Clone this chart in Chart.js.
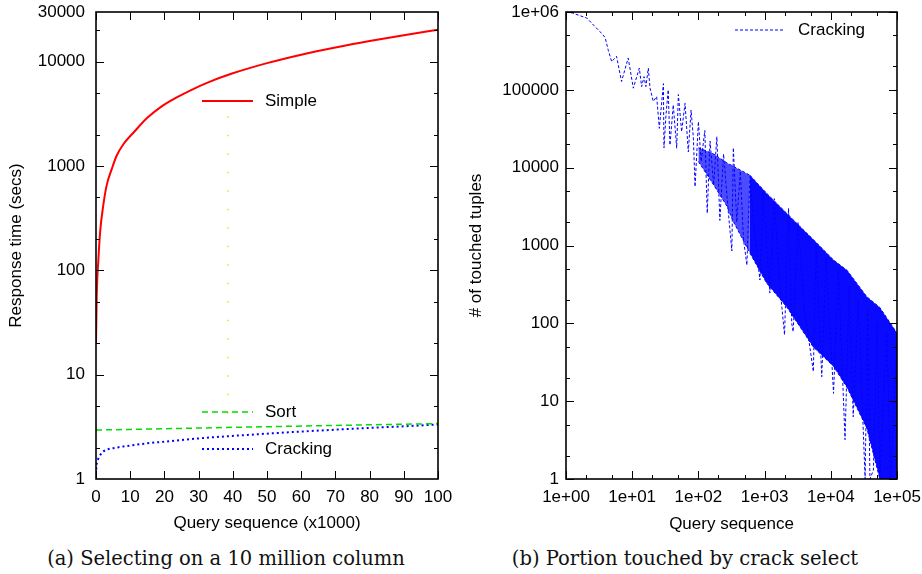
<!DOCTYPE html>
<html>
<head>
<meta charset="utf-8">
<script src="https://cdn.jsdelivr.net/npm/chart.js@4"></script>
<style>
  body { margin: 0; width: 922px; height: 574px; overflow: hidden; background: #fff; position: relative; }
  canvas { position: absolute; top: 0; }
  #left { left: 0; }
  #right { left: 460px; }
  .cap { position: absolute; top: 547px; font-family: "DejaVu Serif", serif; font-size: 19.5px; color: #111; white-space: nowrap; transform: translateX(-50%); }
</style>
</head>
<body>
<canvas id="left" width="460" height="545"></canvas>
<canvas id="right" width="480" height="545"></canvas>
<div class="cap" style="left:226px">(a) Selecting on a 10 million column</div>
<div class="cap" style="left:685px">(b) Portion touched by crack select</div>
<script>
// (a) response time, query sequence in thousands
const simpleQ    = [0, 0.2, 0.7, 1.2, 2.1, 3.1, 4.6, 6, 8, 11, 15, 19, 23.6, 27.5, 32.8, 40, 50, 60, 70, 80, 90, 100]
const simpleSecs = [20, 55, 127, 233, 415, 650, 935, 1250, 1620, 2100, 2900, 3700, 4550, 5300, 6350, 7750, 9700, 11700, 13700, 15800, 18000, 20300]
const queryK     = [0, 0.1, 0.3, 0.5, 1, 2, 3, 4, 6, 8, 10, 15, 20, 30, 40, 50, 60, 70, 80, 90, 100]
const sortSecs   = [2.95, 2.95, 2.95, 2.95, 2.95, 2.96, 2.96, 2.96, 2.97, 2.98, 2.99, 3.01, 3.03, 3.08, 3.13, 3.17, 3.22, 3.26, 3.31, 3.35, 3.40]
const crackSecs  = [1.1, 1.3, 1.45, 1.52, 1.65, 1.82, 1.9, 1.95, 2.0, 2.05, 2.09, 2.2, 2.28, 2.45, 2.59, 2.72, 2.85, 2.97, 3.09, 3.2, 3.33]
const oddQ       = [38.6, 38.6]
const oddSecs    = [3000, 3]
const leftYTicks = [1, 10, 100, 1000, 10000, 30000]

// (b) touched tuples per query
const crackQ = [1, 1.26, 1.6, 2.05, 2.6, 3.26, 3.9, 4.36, 4.9, 5.8, 6.9, 8.7, 10.4, 12.8, 13.9, 15.1, 16.1, 17.5, 18.6, 20.8,
  23.4, 25.7, 29.6, 30.2, 32.4, 35, 37.2, 41.7, 47, 49.8, 55.8, 62.8, 70.4, 77.5, 84, 89, 100, 110, 125, 136, 150, 170, 190,
  211, 240, 280, 320, 337, 380, 430, 480, 540, 600, 700, 850, 950, 1200, 1400, 1700, 2000, 2300, 2570, 2700, 3200, 4000,
  5450, 6000, 7300, 8500, 11000, 13000, 16400, 19000, 21800, 26000, 33000, 36000, 39000, 44000, 50000, 55000, 70000, 80000, 100000]
const crackTouched = [1e6, 9.7e5, 9e5, 8.4e5, 6.8e5, 5.6e5, 4.7e5, 3.2e5, 2.3e5, 2.7e5, 1.28e5, 2.56e5, 1.05e5, 1.9e5, 1.1e5,
  1.48e5, 1.1e5, 1.9e5, 1.05e5, 7.1e4, 8.2e4, 3.2e4, 1.2e5, 1.8e4, 4.8e4, 1e5, 1.95e4, 6.4e4, 1.78e4, 8.7e4, 2.9e4, 6.7e4,
  1.6e4, 5.5e4, 2.4e4, 5.7e3, 3.9e4, 1.2e4, 3.0e4, 2.6e3, 2.2e4, 6e3, 2.5e4, 2.1e3, 1.5e4, 3e3, 850, 1.8e4, 2e3, 9e3, 1.2e3,
  560, 7.7e3, 1.5e3, 360, 5e3, 245, 4e3, 300, 71, 3e3, 100, 78, 2e3, 150, 24, 1e3, 20.6, 700, 12.6, 500, 3.2, 300, 6.3, 200,
  1, 150, 1, 1.3, 100, 1, 80, 1, 60]
// dense cloud of the crack series: early sparse part and later solid part
const sparseQ     = [100, 170, 270, 330, 600]
const sparseUpper = [1.8e4, 1.5e4, 1.15e4, 1.05e4, 8e3]
const sparseLower = [1.2e4, 6e3, 3.2e3, 2.1e3, 800]
const solidQ      = [600, 1070, 2150, 3430, 5400, 11000, 17600, 35000, 55000, 100000]
const solidUpper  = [8e3, 4.7e3, 2.6e3, 1.75e3, 1.2e3, 650, 480, 220, 160, 75]
const solidLower  = [800, 330, 163, 90, 50, 28, 15, 4.5, 1, 1]
const rightXTicks = [1, 10, 100, 1000, 10000, 100000]
const rightYTicks = [1, 10, 100, 1000, 10000, 100000, 1000000]

Chart.defaults.font.family = 'Liberation Sans'
Chart.defaults.font.size = 17
Chart.defaults.color = '#000'

const pts = (xs, ys) => xs.map((x, i) => ({x: x, y: ys[i]}))

// box round the plot with inward ticks on all four sides
const frame = {
  id: 'frame',
  afterDatasetsDraw(chart, args, o) {
    const ctx = chart.ctx, a = chart.chartArea, sx = chart.scales.x, sy = chart.scales.y
    ctx.save()
    ctx.strokeStyle = '#000'
    ctx.lineWidth = 1
    ctx.beginPath()
    const tx = (v, len) => {
      const p = Math.round(sx.getPixelForValue(v)) + 0.5
      ctx.moveTo(p, a.bottom); ctx.lineTo(p, a.bottom - len)
      ctx.moveTo(p, a.top); ctx.lineTo(p, a.top + len)
    }
    const ty = (v, len) => {
      const p = Math.round(sy.getPixelForValue(v)) + 0.5
      ctx.moveTo(a.left, p); ctx.lineTo(a.left + len, p)
      ctx.moveTo(a.right, p); ctx.lineTo(a.right - len, p)
    }
    o.xMajor.forEach(v => tx(v, 8))
    o.xMinor.forEach(v => tx(v, 4))
    o.yMajor.forEach(v => ty(v, 8))
    o.yMinor.forEach(v => ty(v, 4))
    ctx.stroke()
    ctx.lineWidth = 1.6
    ctx.strokeRect(a.left, a.top, a.right - a.left, a.bottom - a.top)
    ctx.restore()
  }
}

// gnuplot style key: sample line and label at given spots
const key = {
  id: 'key',
  afterDatasetsDraw(chart, args, o) {
    const ctx = chart.ctx
    ctx.save()
    o.items.forEach(it => {
      const ds = chart.data.datasets[it.ds]
      ctx.strokeStyle = ds.borderColor
      ctx.lineWidth = ds.borderWidth
      ctx.setLineDash(ds.borderDash || [])
      ctx.beginPath()
      ctx.moveTo(o.x0, it.y); ctx.lineTo(o.x1, it.y)
      ctx.stroke()
      ctx.setLineDash([])
      ctx.fillStyle = '#000'
      ctx.font = '17px "Liberation Sans"'
      ctx.textBaseline = 'middle'
      ctx.fillText(ds.label, o.tx, it.y)
    })
    ctx.restore()
  }
}

const decades = (lo, hi, mult) => {
  const out = []
  for (let d = lo; d <= hi; d *= 10) mult.forEach(m => out.push(d * m))
  return out
}

// keep tick-label overhang from pushing the plot box around
const fixX = s => { s.height = 66; s.paddingLeft = 0; s.paddingRight = 0 }
const fixY = w => s => { s.width = w; s.paddingTop = 0; s.paddingBottom = 0 }

new Chart(document.getElementById('left'), {
  type: 'line',
  data: {
    datasets: [
      {label: 'Simple', data: pts(simpleQ, simpleSecs), borderColor: '#ff0000', borderWidth: 2, cubicInterpolationMode: 'monotone'},
      {label: 'Sort', data: pts(queryK, sortSecs), borderColor: '#00dd00', borderWidth: 1.5, borderDash: [6, 4]},
      {label: 'Cracking', data: pts(queryK, crackSecs), borderColor: '#0000ff', borderWidth: 2, borderDash: [2, 3], cubicInterpolationMode: 'monotone'},
      {label: '', data: pts(oddQ, oddSecs), borderColor: '#e6e600', borderWidth: 1.5, borderDash: [1.5, 17]}
    ]
  },
  options: {
    responsive: false,
    animation: false,
    devicePixelRatio: 1,
    layout: {padding: {top: 12, right: 22, left: 0, bottom: 0}},
    elements: {point: {radius: 0}},
    plugins: {
      legend: {display: false},
      tooltip: {enabled: false},
      frame: {xMajor: [0, 10, 20, 30, 40, 50, 60, 70, 80, 90, 100], xMinor: [],
              yMajor: [10, 100, 1000, 10000], yMinor: decades(1, 10000, [2, 5]).filter(v => v < 30000)},
      key: {x0: 202, x1: 253, tx: 265, items: [{ds: 0, y: 101}, {ds: 1, y: 412}, {ds: 2, y: 449}]}
    },
    scales: {
      x: {
        type: 'linear', min: 0, max: 100,
        ticks: {stepSize: 10, padding: 8, autoSkip: false, maxRotation: 0, minRotation: 0},
        grid: {display: false, drawTicks: false}, border: {display: false},
        title: {display: true, text: 'Query sequence (x1000)', padding: {top: 4, bottom: 11}},
        afterFit: fixX
      },
      y: {
        type: 'logarithmic', min: 1, max: 30000,
        afterBuildTicks: s => { s.ticks = leftYTicks.map(v => ({value: v})) },
        ticks: {padding: 11, callback: v => String(v)},
        grid: {display: false, drawTicks: false}, border: {display: false},
        title: {display: true, text: 'Response time (secs)', padding: {top: 6, bottom: 0}},
        afterFit: fixY(96)
      }
    }
  },
  plugins: [frame, key]
})

const cloudLine = {borderColor: '#0000ff', borderWidth: 1, borderDash: [3, 2]}

new Chart(document.getElementById('right'), {
  type: 'line',
  data: {
    datasets: [
      {label: 'Cracking', data: pts(crackQ, crackTouched), ...cloudLine},
      {label: 'sparse top', data: pts(sparseQ, sparseUpper), ...cloudLine, fill: false},
      {label: 'sparse bottom', data: pts(sparseQ, sparseLower), ...cloudLine, fill: '-1', backgroundColor: 'rgba(0,0,255,0.7)'},
      {label: 'solid top', data: pts(solidQ, solidUpper), ...cloudLine, fill: false},
      {label: 'solid bottom', data: pts(solidQ, solidLower), ...cloudLine, fill: '-1', backgroundColor: 'rgba(0,0,255,0.96)'}
    ]
  },
  options: {
    responsive: false,
    animation: false,
    devicePixelRatio: 1,
    layout: {padding: {top: 12, right: 43, left: 0, bottom: 0}},
    elements: {point: {radius: 0}, line: {tension: 0}},
    plugins: {
      legend: {display: false},
      tooltip: {enabled: false},
      filler: {propagate: false},
      frame: {xMajor: rightXTicks, xMinor: decades(1, 10000, [2, 5]),
              yMajor: rightYTicks, yMinor: decades(1, 100000, [2, 5])},
      key: {x0: 275, x1: 323, tx: 338, items: [{ds: 0, y: 30}]}
    },
    scales: {
      x: {
        type: 'logarithmic', min: 1, max: 100000,
        afterBuildTicks: s => { s.ticks = rightXTicks.map(v => ({value: v})) },
        ticks: {padding: 8, autoSkip: false, maxRotation: 0, minRotation: 0,
                callback: v => '1e+' + String(Math.round(Math.log10(v))).padStart(2, '0')},
        grid: {display: false, drawTicks: false}, border: {display: false},
        title: {display: true, text: 'Query sequence', padding: {top: 4, bottom: 10}},
        afterFit: fixX
      },
      y: {
        type: 'logarithmic', min: 1, max: 1000000,
        afterBuildTicks: s => { s.ticks = rightYTicks.map(v => ({value: v})) },
        ticks: {padding: 7, callback: v => v === 1000000 ? '1e+06' : String(v)},
        grid: {display: false, drawTicks: false}, border: {display: false},
        title: {display: true, text: '# of touched tuples', padding: {top: 6, bottom: 0}},
        afterFit: fixY(106)
      }
    }
  },
  plugins: [frame, key]
})
</script>
</body>
</html>
